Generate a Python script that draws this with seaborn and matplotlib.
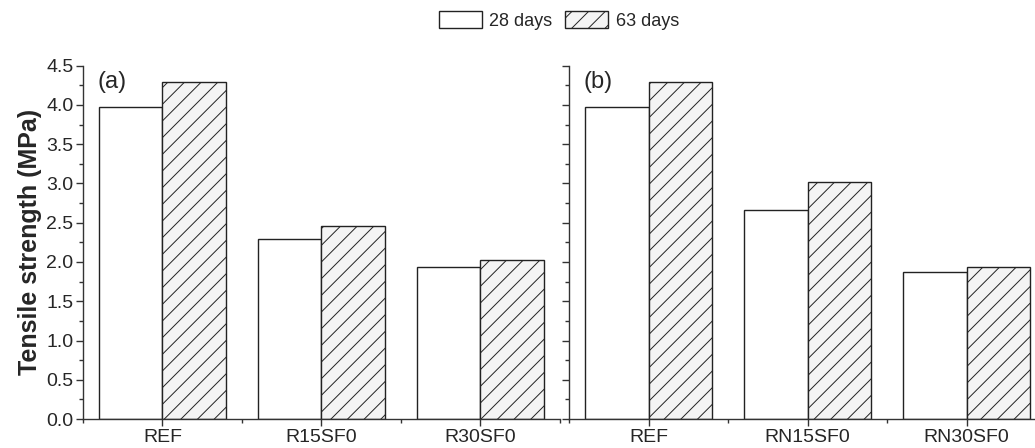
import numpy as np
import pandas as pd
import matplotlib
matplotlib.use('Agg')
import matplotlib.pyplot as plt
from matplotlib.patches import Patch
from matplotlib.ticker import MultipleLocator
import seaborn as sns

# data
mixes_a = ['REF', 'R15SF0', 'R30SF0']
mixes_b = ['REF', 'RN15SF0', 'RN30SF0']
ages = ['28 days', '63 days']
a_28 = [3.97, 2.29, 1.93]
a_63 = [4.29, 2.46, 2.03]
b_28 = [3.97, 2.66, 1.87]
b_63 = [4.29, 3.02, 1.94]

sns.set_style('ticks')
plt.rcParams['font.family'] = ['Liberation Sans', 'DejaVu Sans']
plt.rcParams['hatch.color'] = '#333333'
plt.rcParams['hatch.linewidth'] = 0.7

def make_df(mixes, v28, v63):
    return pd.DataFrame({
        'Mix': mixes * 2,
        'Age': [ages[0]] * len(mixes) + [ages[1]] * len(mixes),
        'Strength': list(v28) + list(v63),
    })

df_a = make_df(mixes_a, a_28, a_63)
df_b = make_df(mixes_b, b_28, b_63)

fig = plt.figure(figsize=(10.35, 4.48), dpi=100)
ax1 = fig.add_axes([0.0802, 0.0647, 0.4608, 0.7886])
ax2 = fig.add_axes([0.5498, 0.0647, 0.4502, 0.7886])

edge = '#222222'
for ax, df, tag, xmax in [(ax1, df_a, '(a)', 2.5), (ax2, df_b, '(b)', 2.43)]:
    sns.barplot(data=df, x='Mix', y='Strength', hue='Age', ax=ax,
                palette=['white', '#f4f4f4'], edgecolor=edge, linewidth=1.0,
                width=0.8, legend=False)
    for bar in ax.containers[1]:
        bar.set_hatch('//')
    ax.set_xlim(-0.5, xmax)
    ax.set_ylim(0, 4.5)
    ax.yaxis.set_major_locator(MultipleLocator(0.5))
    ax.yaxis.set_minor_locator(MultipleLocator(0.25))
    ax.xaxis.set_minor_locator(MultipleLocator(0.5))
    ax.tick_params(axis='both', which='major', direction='out', length=5,
                   width=1, color='#333333', labelsize=14, pad=2)
    ax.tick_params(axis='both', which='minor', direction='out', length=3,
                   width=1, color='#333333')
    for s in ['top', 'right']:
        ax.spines[s].set_visible(False)
    for s in ['left', 'bottom']:
        ax.spines[s].set_color('#333333')
        ax.spines[s].set_linewidth(1.0)
    ax.set_xlabel('')
    ax.text(0.03, 0.985, tag, transform=ax.transAxes, fontsize=17,
            ha='left', va='top')

ax1.set_ylabel('Tensile strength (MPa)', fontsize=18, fontweight='bold', labelpad=3)
ax2.set_ylabel('')
ax2.tick_params(axis='y', which='both', labelleft=False)

handles = [Patch(facecolor='white', edgecolor=edge, linewidth=1.0, label=ages[0]),
           Patch(facecolor='#f4f4f4', edgecolor=edge, linewidth=1.0, hatch='//', label=ages[1])]
fig.legend(handles=handles, loc='center', bbox_to_anchor=(0.54, 0.955), ncol=2,
           frameon=False, fontsize=13, handlelength=2.4, handleheight=1.1,
           columnspacing=0.7, handletextpad=0.4)

fig.savefig('out.png', dpi=100)
